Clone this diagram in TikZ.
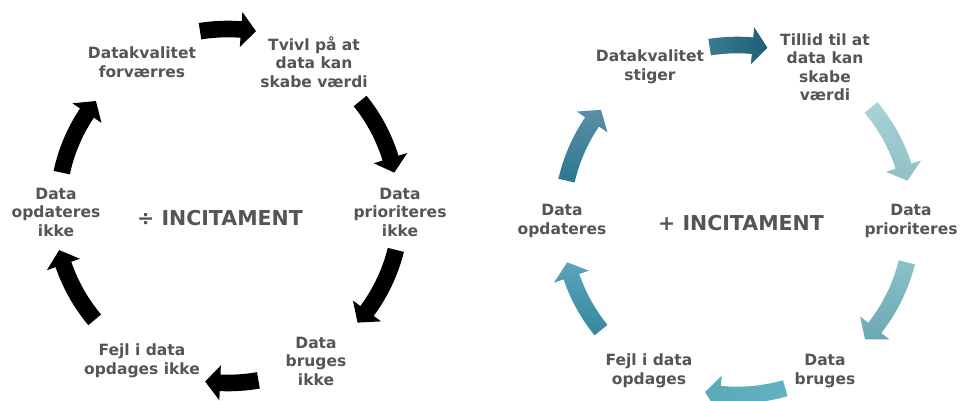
\documentclass[tikz,border=0pt]{standalone}
\usepackage{fontspec}
\setmainfont{DejaVu Sans}
\definecolor{txtgray}{HTML}{555555}
\definecolor{tA}{HTML}{3A7A92}
\definecolor{tB}{HTML}{1F5E76}
\definecolor{uA}{HTML}{A9D2D6}
\definecolor{uB}{HTML}{8FC0C6}
\definecolor{vA}{HTML}{8CC1C8}
\definecolor{vB}{HTML}{6BA8B3}
\definecolor{wA}{HTML}{5AAABA}
\definecolor{wB}{HTML}{62B1C0}
\definecolor{xA}{HTML}{5AA5BB}
\definecolor{xB}{HTML}{35879F}
\definecolor{yA}{HTML}{5A8FA6}
\definecolor{yB}{HTML}{2C7791}
\newcommand\cycarrow[6]{% #1 center coord, #2 r, #3 start, #4 end, #5 options, #6 head half width
  \pgfmathsetmacro\cyHb{#4+15/#2*57.2958}%
  \pgfmathsetmacro\cyRo{#2+8.3}\pgfmathsetmacro\cyRi{#2-8.3}%
  \pgfmathsetmacro\cyHo{#2+#6}\pgfmathsetmacro\cyHi{#2-#6}%
  \path[#5] ([shift={(#1)}]#3:\cyRo) arc[start angle=#3, end angle=\cyHb, radius=\cyRo]
    -- ([shift={(#1)}]\cyHb:\cyHo) -- ([shift={(#1)}]#4:#2) -- ([shift={(#1)}]\cyHb:\cyHi)
    -- ([shift={(#1)}]\cyHb:\cyRi) arc[start angle=\cyHb, end angle=#3, radius=\cyRi] -- cycle;%
}
\begin{document}
\begin{tikzpicture}[x=1pt,y=1pt,
  lbl/.style={font=\fontsize{15.5}{18.5}\selectfont\bfseries, text=txtgray, align=center, inner sep=0pt},
  big/.style={font=\fontsize{20.5}{24}\selectfont\bfseries, text=txtgray, inner sep=0pt}]
\useasboundingbox (0,0) rectangle (968,401);
\fill[white] (0,0) rectangle (968,401);
% ---------- left cycle ----------
\coordinate (cl) at (228,193);
\node[lbl] (l1) at (142,339) {Datakvalitet\\forværres};
\node[lbl] (l2) at (314,339) {Tvivl på at\\data kan\\skabe værdi};
\node[lbl] (l3) at (400,189) {Data\\prioriteres\\ikke};
\node[lbl] (l4) at (316,40) {Data\\bruges\\ikke};
\node[lbl] (l5) at (142,40) {Fejl i data\\opdages ikke};
\node[lbl] (l6) at (56,189) {Data\\opdateres\\ikke};
\node[big] (lc) at (220,183) {÷ INCITAMENT};
\cycarrow{cl}{179}{99}{81}{fill=black}{17.5}
\cycarrow{cl}{170}{39}{12}{fill=black}{17.5}
\cycarrow{cl}{173}{-14}{-41.5}{fill=black}{17.5}
\cycarrow{cl}{175}{-80}{-97.5}{fill=black}{17.5}
\cycarrow{cl}{174}{220}{194}{fill=black}{17.5}
\cycarrow{cl}{170}{168}{141}{fill=black}{17.5}
% ---------- right cycle ----------
\coordinate (cr) at (737,181);
\node[lbl] (r1) at (650,334) {Datakvalitet\\stiger};
\node[lbl] (r2) at (825,334) {Tillid til at\\data kan\\skabe\\værdi};
\node[lbl] (r3) at (911,180) {Data\\prioriteres};
\node[lbl] (r4) at (825,30) {Data\\bruges};
\node[lbl] (r5) at (649,30) {Fejl i data\\opdages};
\node[lbl] (r6) at (562,180) {Data\\opdateres};
\node[big] (rc) at (741,178) {+ INCITAMENT};
\cycarrow{cr}{175}{99}{80}{left color=tA, right color=tB}{18.5}
\cycarrow{cr}{175}{40}{13}{top color=uA, bottom color=uB}{18.5}
\cycarrow{cr}{175}{-14}{-43}{top color=vA, bottom color=vB}{18.5}
\cycarrow{cr}{175}{-74}{-100.5}{left color=wA, right color=wB}{18.5}
\cycarrow{cr}{175}{219}{194}{top color=xA, bottom color=xB}{18.5}
\cycarrow{cr}{175}{167}{141}{top color=yA, bottom color=yB}{18.5}
\end{tikzpicture}
\end{document}
